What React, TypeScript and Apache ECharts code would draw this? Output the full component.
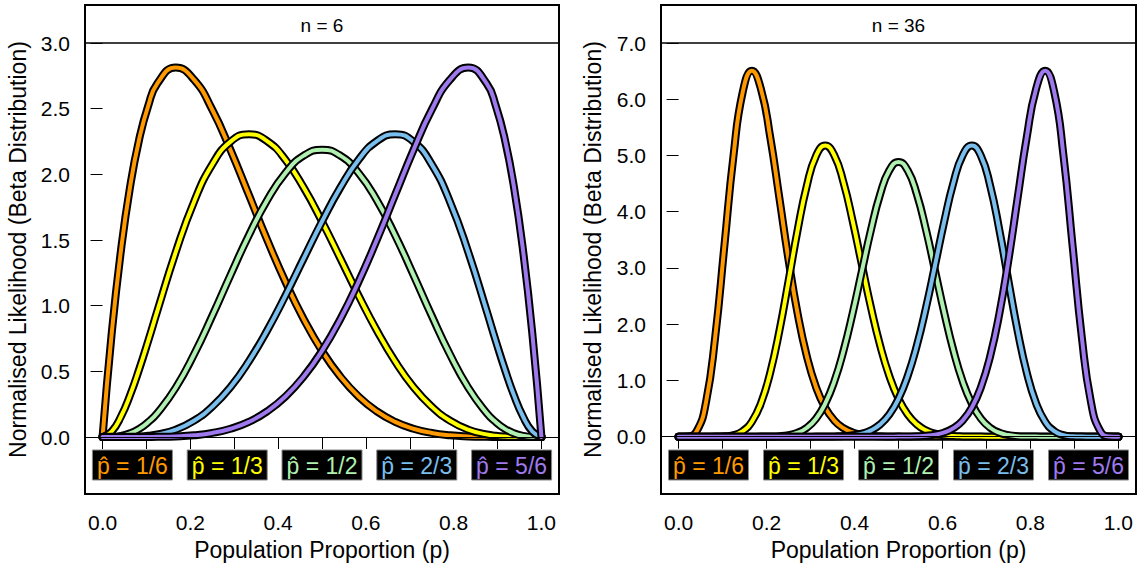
import React, { useEffect, useRef } from "react";
import * as echarts from "echarts";

// ---------- data ----------
const panelTitles = ["n = 6", "n = 36"];
const curveLabels = ["p\u0302 = 1/6", "p\u0302 = 1/3", "p\u0302 = 1/2", "p\u0302 = 2/3", "p\u0302 = 5/6"];
const curveColors = ["#FF9900", "#FFFF00", "#B0F0B0", "#7ABEEE", "#9F79EE"];

const xTicks = [0, 0.1, 0.2, 0.3, 0.4, 0.5, 0.6, 0.7, 0.8, 0.9, 1.0];
const xTickLabels = [0, 0.2, 0.4, 0.6, 0.8, 1.0];
const yTicks6 = [0, 0.5, 1.0, 1.5, 2.0, 2.5, 3.0];
const yTicks36 = [0, 1, 2, 3, 4, 5, 6, 7];

// panel n = 6
const p6 = [0, 0.0208, 0.0417, 0.0625, 0.0833, 0.1042,
  0.125, 0.1667, 0.2083, 0.25, 0.2917, 0.3333, 0.375, 0.4167, 0.4583, 0.5,
  0.5417, 0.5833, 0.625, 0.6667, 0.7083, 0.75, 0.7917, 0.8333, 0.875,
  0.8958, 0.9167, 0.9375, 0.9583, 0.9792, 1];
const n6_1of6 = [0, 0.788, 1.415, 1.901, 2.265, 2.524,
  2.693, 2.813, 2.721, 2.492, 2.184, 1.844, 1.502, 1.182, 0.898, 0.656,
  0.460, 0.308, 0.195, 0.115, 0.063, 0.031, 0.013, 0.0045, 0.0011,
  0.0005, 0.0002, 0.00004, 0, 0, 0];
const n6_1of3 = [0, 0.042, 0.154, 0.317, 0.515, 0.734,
  0.962, 1.407, 1.790, 2.076, 2.249, 2.305, 2.253, 2.111, 1.899, 1.641,
  1.360, 1.077, 0.811, 0.576, 0.381, 0.231, 0.124, 0.056, 0.020,
  0.0099, 0.004, 0.0014, 0.0003, 0.00002, 0];
const n6_1of2 = [0, 0.0012, 0.009, 0.028, 0.062, 0.114,
  0.183, 0.375, 0.628, 0.923, 1.235, 1.536, 1.802, 2.010, 2.142, 2.188,
  2.142, 2.010, 1.802, 1.536, 1.235, 0.923, 0.628, 0.375, 0.183,
  0.114, 0.062, 0.028, 0.009, 0.0012, 0];
const n6_2of3 = [0, 0.00002, 0.0003, 0.0014, 0.004, 0.0099,
  0.020, 0.056, 0.124, 0.231, 0.381, 0.576, 0.811, 1.077, 1.360, 1.641,
  1.899, 2.111, 2.253, 2.305, 2.249, 2.076, 1.790, 1.407, 0.962,
  0.734, 0.515, 0.317, 0.154, 0.042, 0];
const n6_5of6 = [0, 0, 0, 0.00004, 0.0002, 0.0005,
  0.0011, 0.0045, 0.013, 0.031, 0.063, 0.115, 0.195, 0.308, 0.460, 0.656,
  0.898, 1.182, 1.502, 1.844, 2.184, 2.492, 2.721, 2.813, 2.693,
  2.524, 2.265, 1.901, 1.415, 0.788, 0];

// panel n = 36
const p36 = [0, 0.0208, 0.0417, 0.0625, 0.0833, 0.1042, 0.125, 0.1458, 0.1667, 0.1875,
  0.2083, 0.2292, 0.25, 0.2708, 0.2917, 0.3125, 0.3333, 0.3542, 0.375, 0.3958,
  0.4167, 0.4375, 0.4583, 0.4792, 0.5, 0.5208, 0.5417, 0.5625, 0.5833, 0.6042,
  0.625, 0.6458, 0.6667, 0.6875, 0.7083, 0.7292, 0.75, 0.7708, 0.7917, 0.8125,
  0.8333, 0.8542, 0.875, 0.8958, 0.9167, 0.9375, 0.9583, 0.9792, 1];
const n36_1of6 = [0, 0.003, 0.105, 0.620, 1.774, 3.396, 5.006, 6.126, 6.507, 6.173,
  5.328, 4.241, 3.142, 2.182, 1.426, 0.881, 0.516, 0.286, 0.151, 0.075,
  0.036, 0.016, 0.007, 0.003, 0.001, 0, 0, 0, 0, 0,
  0, 0, 0, 0, 0, 0, 0, 0, 0, 0,
  0, 0, 0, 0, 0, 0, 0, 0, 0];
const n36_1of3 = [0, 0, 0, 0, 0.0006, 0.005, 0.027, 0.098, 0.268, 0.599,
  1.137, 1.882, 2.770, 3.681, 4.467, 4.994, 5.177, 5.001, 4.520, 3.834,
  3.056, 2.293, 1.620, 1.077, 0.674, 0.396, 0.218, 0.112, 0.054, 0.024,
  0.010, 0.004, 0.001, 0.0004, 0, 0, 0, 0, 0, 0,
  0, 0, 0, 0, 0, 0, 0, 0, 0];
const n36_1of2 = [0, 0, 0, 0, 0, 0, 0, 0, 0.0001, 0.0007,
  0.003, 0.009, 0.028, 0.070, 0.158, 0.319, 0.586, 0.986, 1.529, 2.198,
  2.943, 3.680, 4.310, 4.736, 4.886, 4.736, 4.310, 3.680, 2.943, 2.198,
  1.529, 0.986, 0.586, 0.319, 0.158, 0.070, 0.028, 0.009, 0.003, 0.0007,
  0.0001, 0, 0, 0, 0, 0, 0, 0, 0];
const n36_2of3 = [0, 0, 0, 0, 0, 0, 0, 0, 0, 0,
  0, 0, 0, 0, 0, 0.0004, 0.001, 0.004, 0.010, 0.024,
  0.054, 0.112, 0.218, 0.396, 0.674, 1.077, 1.620, 2.293, 3.056, 3.834,
  4.520, 5.001, 5.177, 4.994, 4.467, 3.681, 2.770, 1.882, 1.137, 0.599,
  0.268, 0.098, 0.027, 0.005, 0.0006, 0, 0, 0, 0];
const n36_5of6 = [0, 0, 0, 0, 0, 0, 0, 0, 0, 0,
  0, 0, 0, 0, 0, 0, 0, 0, 0, 0,
  0, 0, 0, 0, 0.001, 0.003, 0.007, 0.016, 0.036, 0.075,
  0.151, 0.286, 0.516, 0.881, 1.426, 2.182, 3.142, 4.241, 5.328, 6.173,
  6.507, 6.126, 5.006, 3.396, 1.774, 0.620, 0.105, 0.003, 0];

const panels = [
  { title: panelTitles[0], xs: p6, curves: [n6_1of6, n6_1of3, n6_1of2, n6_2of3, n6_5of6], yTicks: yTicks6, yMin: -0.434, yMax: 3.0 },
  { title: panelTitles[1], xs: p36, curves: [n36_1of6, n36_1of3, n36_1of2, n36_2of3, n36_5of6], yTicks: yTicks36, yMin: -1.02, yMax: 7.0 },
];

// ---------- layout ----------
const FONT = "'Liberation Sans', Arial, Helvetica, sans-serif";
const boxTop = 5;
const stripBottom = 43;
const boxBottom = 494;
const panelLeft = [85, 661];
const panelWidth = [474, 475];
const yTitleX = [18, 593];

export default function App() {
  const ref = useRef<HTMLDivElement>(null);

  useEffect(() => {
    if (!ref.current) return;
    const chart = echarts.init(ref.current, null, { renderer: "svg" });

    const grid: any[] = [];
    const xAxis: any[] = [];
    const yAxis: any[] = [];
    const series: any[] = [];
    const graphic: any[] = [];

    panels.forEach((pn, pi) => {
      const L = panelLeft[pi];
      const W = panelWidth[pi];
      grid.push({ left: L, top: stripBottom, width: W, height: boxBottom - stripBottom, containLabel: false });
      xAxis.push({
        type: "value",
        gridIndex: pi,
        min: -0.04,
        max: 1.04,
        axisLine: { show: false },
        splitLine: { show: false },
        axisTick: { show: true, length: 12, customValues: xTicks, lineStyle: { color: "#000", width: 1 } },
        axisLabel: {
          show: true,
          customValues: xTickLabels,
          margin: 18,
          fontSize: 21,
          fontFamily: FONT,
          color: "#000",
          formatter: (v: number) => v.toFixed(1),
        },
      });
      yAxis.push({
        type: "value",
        gridIndex: pi,
        min: pn.yMin,
        max: pn.yMax,
        axisLine: { show: false },
        splitLine: { show: false },
        axisTick: { show: true, length: 12, customValues: pn.yTicks, lineStyle: { color: "#000", width: 1 } },
        axisLabel: {
          show: true,
          customValues: pn.yTicks,
          margin: 15,
          fontSize: 21,
          fontFamily: FONT,
          color: "#000",
          formatter: (v: number) => v.toFixed(1),
        },
      });

      pn.curves.forEach((ys, ci) => {
        const data = pn.xs.map((x, i) => [x, ys[i]]);
        const common = {
          type: "line",
          xAxisIndex: pi,
          yAxisIndex: pi,
          data,
          showSymbol: false,
          symbol: "none",
          smooth: 0.5,
          silent: true,
          clip: false,
          emphasis: { disabled: true },
        };
        series.push({
          ...common,
          name: "outline",
          lineStyle: { color: "#000", width: 8, cap: "round", join: "round" },
          ...(ci === 0
            ? {
                markLine: {
                  silent: true,
                  symbol: ["none", "none"],
                  label: { show: false },
                  lineStyle: { color: "#000", width: 1, type: "solid" },
                  data: [{ yAxis: 0 }],
                },
              }
            : {}),
        });
        series.push({
          ...common,
          name: curveLabels[ci],
          lineStyle: { color: curveColors[ci], width: 4, cap: "round", join: "round" },
        });
      });

      // panel box and strip
      graphic.push({
        type: "rect",
        shape: { x: L, y: boxTop, width: W, height: boxBottom - boxTop },
        style: { fill: "none", stroke: "#000", lineWidth: 2 },
      });
      graphic.push({
        type: "line",
        shape: { x1: L, y1: stripBottom, x2: L + W, y2: stripBottom },
        style: { stroke: "#000", lineWidth: 1.3 },
      });
      graphic.push({
        type: "text",
        x: L + W / 2,
        y: (boxTop + stripBottom) / 2 + 1,
        style: { text: pn.title, font: `19px ${FONT}`, fill: "#000", align: "center", verticalAlign: "middle" },
      });
      // legend boxes
      curveLabels.forEach((lab, ci) => {
        const cx = L + (W * (ci + 0.5)) / 5;
        graphic.push({
          type: "rect",
          shape: { x: cx - 40, y: 450, width: 80, height: 30 },
          style: { fill: "#000", stroke: "#888", lineWidth: 1 },
        });
        graphic.push({
          type: "text",
          x: cx,
          y: 466,
          style: { text: lab, font: `23px ${FONT}`, fill: curveColors[ci], align: "center", verticalAlign: "middle" },
        });
      });
      // axis titles
      graphic.push({
        type: "text",
        x: L + W / 2,
        y: 550,
        style: { text: "Population Proportion (p)", font: `23px ${FONT}`, fill: "#000", align: "center", verticalAlign: "middle" },
      });
      graphic.push({
        type: "text",
        x: yTitleX[pi],
        y: (boxTop + boxBottom) / 2,
        rotation: Math.PI / 2,
        style: {
          text: "Normalised Likelihood (Beta Distribution)",
          font: `23px ${FONT}`,
          fill: "#000",
          align: "center",
          verticalAlign: "middle",
        },
      });
    });

    chart.setOption({
      animation: false,
      backgroundColor: "#fff",
      grid,
      xAxis,
      yAxis,
      series,
      graphic,
    });

    return () => chart.dispose();
  }, []);

  return <div ref={ref} style={{ position: "absolute", left: 0, top: 0, width: 1148, height: 570 }} />;
}
